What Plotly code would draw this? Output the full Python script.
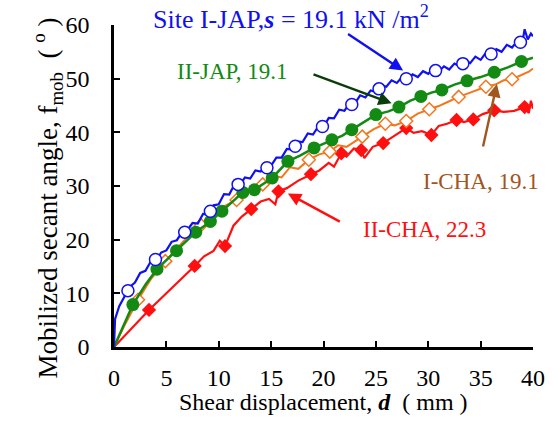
import plotly.graph_objects as go

# ---- Site I-JAP (continuous record + marker points) ----
ijap_line_x = [0, 0.1, 0.5, 1.0, 1.5, 2.0, 2.5, 3.0, 3.5, 4.0, 4.5, 5.0, 5.5, 6.0, 6.5, 7.0, 7.5, 8.0,
               8.5, 9.0, 9.5, 10.0, 10.5, 11.0, 11.5, 12.0, 12.5, 13.0, 13.5, 14.0, 14.5, 15.0, 15.5,
               16.0, 16.5, 17.0, 17.5, 18.0, 18.5, 19.0, 19.5, 20.0, 20.5, 21.0, 21.5, 22.0, 22.5,
               23.0, 23.5, 24.0, 24.5, 25.0, 25.5, 26.0, 26.5, 27.0, 27.5, 28.0, 28.5, 29.0, 29.5,
               30.0, 30.5, 31.0, 31.5, 32.0, 32.5, 33.0, 33.5, 34.0, 34.5, 35.0, 35.5, 36.0, 36.5,
               37.0, 37.5, 38.0, 38.5, 39.0, 39.2, 39.5, 39.8, 40.0]
ijap_line_y = [0, 5.2, 7.6, 9.3, 11.2, 12.0, 13.8, 14.2, 15.9, 16.0, 17.6, 18.0, 19.6, 19.9, 21.4, 21.8,
               23.1, 23.0, 24.8, 24.7, 26.4, 26.6, 28.5, 28.4, 30.3, 30.1, 31.6, 31.4, 32.9, 32.7,
               33.9, 33.8, 35.3, 35.3, 36.9, 36.8, 38.3, 38.2, 39.8, 39.6, 41.1, 41.0, 42.7, 42.6,
               44.2, 44.0, 45.5, 45.4, 46.9, 46.5, 47.8, 47.5, 48.8, 48.5, 49.7, 49.2, 50.3, 49.8,
               50.8, 50.3, 51.4, 50.9, 51.9, 51.3, 52.3, 51.7, 52.8, 52.3, 53.4, 52.9, 54.1, 53.5,
               54.8, 54.4, 55.5, 55.0, 56.3, 55.8, 57.0, 56.9, 59.2, 57.3, 58.4, 57.9]
ijap_pts_x = [1.33, 3.96, 6.75, 9.2, 11.85, 14.6, 17.3, 19.9, 22.7, 25.3, 27.9, 30.7, 33.3, 36.0, 38.8]
ijap_pts_y = [10.5, 16.3, 21.4, 25.3, 30.3, 33.4, 37.4, 41.1, 45.2, 48.1, 50.0, 51.5, 52.8, 54.6, 56.8]

# ---- Site II-JAP ----
iijap_line_x = [0, 1.8, 3.0, 4.1, 5.0, 5.97, 7.0, 7.8, 9.2, 10.3, 11.3, 12.3, 13.4, 14.2, 15.1, 16.6,
                17.8, 19.1, 20.8, 21.8, 22.7, 24.0, 25.0, 26.2, 27.2, 28.3, 29.3, 30.3, 31.3, 32.5,
                33.7, 35.0, 36.3, 37.6, 38.9, 40.0]
iijap_line_y = [0, 7.9, 11.6, 14.5, 16.2, 17.95, 19.9, 21.4, 23.4, 25.3, 27.0, 28.8, 29.3, 30.4, 31.5,
                34.6, 35.7, 37.1, 38.6, 39.4, 40.5, 42.1, 43.3, 43.9, 44.7, 45.9, 46.7, 47.4, 47.9,
                48.9, 49.6, 50.3, 51.2, 52.1, 53.2, 53.9]
iijap_pts_x = [1.8, 4.1, 5.97, 7.8, 9.2, 10.3, 12.3, 13.4, 15.1, 16.6, 19.1, 20.8, 22.7, 25.0, 27.2,
               29.3, 31.3, 33.7, 36.3, 38.9]
iijap_pts_y = [7.9, 14.5, 17.95, 21.4, 23.4, 25.3, 28.8, 29.3, 31.5, 34.6, 37.1, 38.6, 40.5, 43.3, 44.7,
               46.7, 47.9, 49.6, 51.2, 53.2]

# ---- Site I-CHA ----
icha_line_x = [0, 1.0, 2.3, 3.5, 4.9, 6.0, 7.2, 8.3, 9.5, 10.6, 11.7, 13.0, 14.2, 15.3, 16.0, 16.8,
               17.6, 18.6, 19.6, 20.6, 21.4, 22.2, 23.7, 24.8, 25.9, 26.8, 27.9, 29.0, 30.1, 31.0,
               31.8, 32.9, 34.0, 35.5, 36.4, 37.2, 38.0, 39.0, 39.6, 40.0]
icha_line_y = [0, 4.0, 8.8, 12.6, 16.0, 18.4, 20.9, 22.7, 24.6, 26.3, 27.4, 29.2, 30.3, 31.9, 31.6,
               33.5, 33.2, 34.9, 35.9, 36.4, 37.6, 37.3, 39.2, 40.6, 41.6, 41.3, 42.1, 43.5, 44.3,
               44.9, 45.6, 46.6, 47.4, 48.5, 48.9, 49.7, 49.9, 50.8, 51.3, 51.9]
icha_pts_x = [2.3, 4.9, 8.3, 11.7, 14.2, 18.6, 20.6, 23.7, 25.9, 27.9, 30.1, 32.9, 35.5, 38.0]
icha_pts_y = [8.8, 16.0, 22.7, 27.4, 30.3, 34.9, 36.4, 39.2, 41.6, 42.1, 44.3, 46.6, 48.5, 49.9]

# ---- Site II-CHA ----
iicha_line_x = [0, 1.7, 3.34, 5.0, 6.4, 7.7, 8.6, 9.5, 10.1, 10.6, 11.4, 12.2, 13.1, 14.0, 14.8, 15.4,
                15.7, 16.5, 17.6, 18.8, 19.6, 20.5, 21.0, 21.7, 22.2, 22.9, 23.6, 23.9, 24.7, 25.7,
                26.6, 27.9, 28.6, 29.4, 30.3, 31.0, 31.8, 32.7, 33.4, 34.3, 35.2, 36.3, 37.2, 38.2,
                39.2, 39.6, 39.8, 40.0]
iicha_line_y = [0, 3.6, 6.9, 10.0, 12.6, 15.1, 16.9, 17.9, 19.8, 18.8, 22.6, 24.3, 25.7, 27.1, 27.6,
                26.6, 29.0, 29.6, 31.0, 32.2, 32.9, 34.3, 33.6, 36.1, 35.5, 37.0, 36.7, 35.2, 37.3,
                38.0, 39.2, 40.8, 39.9, 40.2, 39.5, 41.2, 41.6, 42.3, 41.9, 42.4, 43.4, 44.1, 43.8,
                44.0, 44.7, 43.6, 45.9, 44.4]
iicha_pts_x = [3.34, 7.7, 10.6, 13.1, 15.7, 18.8, 21.7, 23.6, 25.7, 27.9, 30.3, 32.7, 34.3, 36.3, 39.2]
iicha_pts_y = [6.9, 15.1, 18.8, 25.7, 29.0, 32.2, 36.1, 36.7, 38.0, 40.8, 39.5, 42.3, 42.4, 44.1, 44.7]

# axis ticks
x_ticks = [0, 5, 10, 15, 20, 25, 30, 35, 40]
y_ticks = [0, 10, 20, 30, 40, 50, 60]

BLUE = "#1010f0"
GREEN = "#138a13"
ORANGE = "#f4761c"
RED = "#ff1010"
BROWN = "#a0561e"
DKGREEN = "#0b3d0b"
FONT = "Times New Roman, Liberation Serif, serif"

W, H = 557, 439
ML, MR, MT, MB = 114, 12, 25, 92
pw, ph = W - ML - MR, H - MT - MB


def px_to_paper(px, py):
    return (px - ML) / pw, (H - MB - py) / ph


fig = go.Figure()

# II-CHA
fig.add_trace(go.Scatter(x=iicha_line_x, y=iicha_line_y, mode="lines",
                         line=dict(color=RED, width=2.2), cliponaxis=False))
fig.add_trace(go.Scatter(x=iicha_pts_x, y=iicha_pts_y, mode="markers", cliponaxis=False,
                         marker=dict(symbol="diamond", size=11, color=RED, line=dict(width=0))))
# I-CHA
fig.add_trace(go.Scatter(x=icha_line_x, y=icha_line_y, mode="lines",
                         line=dict(color=ORANGE, width=2), cliponaxis=False))
fig.add_trace(go.Scatter(x=icha_pts_x, y=icha_pts_y, mode="markers", cliponaxis=False,
                         marker=dict(symbol="diamond", size=10, color="white",
                                     line=dict(color=ORANGE, width=1.5))))
# II-JAP
fig.add_trace(go.Scatter(x=iijap_line_x, y=iijap_line_y, mode="lines",
                         line=dict(color=GREEN, width=2.5), cliponaxis=False))
fig.add_trace(go.Scatter(x=iijap_pts_x, y=iijap_pts_y, mode="markers", cliponaxis=False,
                         marker=dict(symbol="circle", size=13, color=GREEN, line=dict(width=0))))
# I-JAP
fig.add_trace(go.Scatter(x=ijap_line_x, y=ijap_line_y, mode="lines",
                         line=dict(color=BLUE, width=2.2), cliponaxis=False))
fig.add_trace(go.Scatter(x=ijap_pts_x, y=ijap_pts_y, mode="markers", cliponaxis=False,
                         marker=dict(symbol="circle", size=12, color="white",
                                     line=dict(color=BLUE, width=1.5))))

annotations = []


def label(text, x, y, color, ref="x", size=23):
    annotations.append(dict(x=x, y=y, xref="x" if ref == "x" else "paper",
                            yref="y" if ref == "x" else "paper", text=text, showarrow=False,
                            xanchor="left", yanchor="middle",
                            font=dict(family=FONT, size=size, color=color)))


def arrow(x0, y0, x1, y1, color):
    annotations.append(dict(x=x1, y=y1, ax=x0, ay=y0, xref="x", yref="y", axref="x", ayref="y",
                            text="", showarrow=True, arrowhead=2, arrowsize=1.1,
                            arrowwidth=2.4, arrowcolor=color))


sx, sy = px_to_paper(152, 18)
label("Site I-JAP,<b><i>s</i></b> = 19.1 kN /m<sup>2</sup>", sx, sy, BLUE, ref="paper", size=26)
label("II-JAP, 19.1", 5.85, 51.3, GREEN)
label("I-CHA, 19.1", 29.3, 30.8, BROWN)
label("II-CHA, 22.3", 23.55, 21.9, RED)

arrow(22.2, 58.5, 27.6, 51.5, BLUE)
arrow(18.9, 50.9, 26.5, 45.4, DKGREEN)
arrow(35.2, 37.1, 36.55, 49.0, BROWN)
arrow(21.7, 23.2, 16.6, 28.6, RED)

# axis titles
tx, ty = px_to_paper(330, 417)
annotations.append(dict(x=tx, y=ty, xref="paper", yref="paper", showarrow=False,
                        text="Shear displacement, <b><i>d</i></b>  ( mm )",
                        font=dict(family=FONT, size=24, color="black")))
yx, yy = px_to_paper(24, 198)
annotations.append(dict(x=yx, y=yy, xref="paper", yref="paper", showarrow=False, textangle=-90,
                        text="Mobilized secant angle, f<sub>mob</sub>  ( <sup>o</sup> )",
                        font=dict(family=FONT, size=27, color="black")))

axis_common = dict(showline=True, linecolor="black", linewidth=2.5, ticks="inside", ticklen=6,
                   tickwidth=2.2, tickcolor="black", showgrid=False, zeroline=False,
                   tickfont=dict(family=FONT, size=24, color="black"))

fig.update_layout(
    width=W, height=H, margin=dict(l=ML, r=MR, t=MT, b=MB),
    paper_bgcolor="white", plot_bgcolor="white", showlegend=False,
    xaxis=dict(range=[0, 40], tickvals=x_ticks, ticklabelstandoff=7, **axis_common),
    yaxis=dict(range=[0, 60], tickvals=y_ticks, ticklabelstandoff=17, **axis_common),
    annotations=annotations,
)

fig.write_html("out.html")
